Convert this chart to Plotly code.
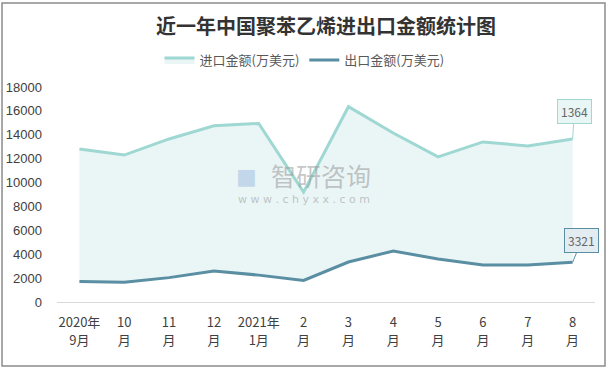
import plotly.graph_objects as go

months = ["2020年9月", "10月", "11月", "12月", "2021年1月", "2月",
          "3月", "4月", "5月", "6月", "7月", "8月"]
tick_line1 = ["2020年", "10", "11", "12", "2021年", "2", "3", "4", "5", "6", "7", "8"]
tick_line2 = ["9月", "月", "月", "月", "1月", "月", "月", "月", "月", "月", "月", "月"]
import_vals = [12800, 12300, 13650, 14750, 14950, 9200, 16350, 14150, 12150, 13400, 13070, 13640]
export_vals = [1720, 1650, 2040, 2600, 2250, 1800, 3350, 4270, 3600, 3100, 3100, 3321]
import_name = "进口金额(万美元)"
export_name = "出口金额(万美元)"
import_label = "1364"
export_label = "3321"

IMP = "#9fd8d3"
EXP = "#5a8ea3"
FONT = "Noto Sans CJK SC"

fig = go.Figure()
fig.add_trace(go.Scatter(x=months, y=export_vals, name=export_name, mode="lines",
                         line=dict(color=EXP, width=3), legendrank=2))
fig.add_trace(go.Scatter(x=months, y=import_vals, name=import_name, mode="lines",
                         line=dict(color=IMP, width=3), fill="tonexty",
                         fillcolor="rgba(222,240,241,0.65)", legendrank=1))
# invisible trace to carry the second row of x tick labels
fig.add_trace(go.Scatter(x=months, y=export_vals, xaxis="x2", mode="lines",
                         line=dict(width=0), showlegend=False, hoverinfo="skip"))

fig.add_annotation(x=months[-1], y=import_vals[-1], text=import_label, showarrow=True,
                   arrowhead=0, arrowwidth=1, arrowcolor=IMP, ax=2, ay=-28,
                   bgcolor="#e9f6f6", bordercolor=IMP, borderwidth=1, borderpad=3,
                   font=dict(size=12, color="#666666", family=FONT))
fig.add_annotation(x=months[-1], y=export_vals[-1], text=export_label, showarrow=True,
                   arrowhead=0, arrowwidth=1, arrowcolor=EXP, ax=9, ay=-22,
                   bgcolor="#e3ecf0", bordercolor=EXP, borderwidth=1, borderpad=3,
                   font=dict(size=12, color="#666666", family=FONT))

# watermark
fig.add_annotation(xref="paper", yref="paper", x=0.49, y=0.59, text="智研咨询", showarrow=False,
                   font=dict(size=25, color="rgba(150,150,150,0.55)", family=FONT))
fig.add_annotation(xref="paper", yref="paper", x=0.459, y=0.475,
                   text="w w w . c h y x x . c o m", showarrow=False,
                   font=dict(size=11, color="rgba(150,150,150,0.55)", family="DejaVu Sans"))
fig.add_annotation(xref="paper", yref="paper", x=0.353, y=0.585, text="■", showarrow=False,
                   font=dict(size=22, color="rgba(120,160,210,0.35)", family="DejaVu Sans"))

# outer border
fig.add_shape(type="rect", xref="paper", yref="paper", x0=-0.1022, x1=1.0186, y0=-0.2977, y1=1.3907,
              line=dict(color="#8c8c8c", width=1.5), fillcolor="rgba(0,0,0,0)")

fig.update_layout(
    width=609, height=370,
    margin=dict(l=57, r=14, t=87, b=68, autoexpand=False),
    paper_bgcolor="white", plot_bgcolor="white",
    title=dict(text="近一年中国聚苯乙烯进出口金额统计图", x=0.5, xref="paper", xanchor="center",
               y=1 - 27 / 370, yanchor="middle", automargin=False,
               font=dict(size=20, color="#333333", family=FONT, weight="bold")),
    legend=dict(orientation="h", x=0.5, xanchor="center", xref="container", y=1 - 60 / 370,
                yref="container", yanchor="middle",
                font=dict(size=13, color="#595959", family=FONT),
                itemwidth=30, traceorder="normal"),
    showlegend=True,
    xaxis=dict(type="category", range=[-0.5, len(months) - 0.5], showgrid=False, showline=True,
               linecolor="#d9d9d9", linewidth=1,
               ticks="", tickmode="array", tickvals=months, ticktext=tick_line1,
               tickfont=dict(size=13, color="#404040", family=FONT), tickangle=0,
               ticklabelstandoff=8, automargin=False),
    xaxis2=dict(type="category", overlaying="x", side="bottom", matches="x", showgrid=False,
                showline=False, ticks="", tickmode="array", tickvals=months, ticktext=tick_line2,
                tickfont=dict(size=13, color="#404040", family=FONT), tickangle=0,
                ticklabelstandoff=29, automargin=False),
    yaxis=dict(range=[0, 18000], dtick=2000, tickformat="d", showgrid=False, zeroline=False,
               showline=False, ticks="", automargin=False,
               tickfont=dict(size=13, color="#404040", family="Liberation Sans"),
               ticklabelstandoff=14),
)

fig.write_html("out.html", config={"displayModeBar": False},
               post_script="document.body.style.margin='0';")
